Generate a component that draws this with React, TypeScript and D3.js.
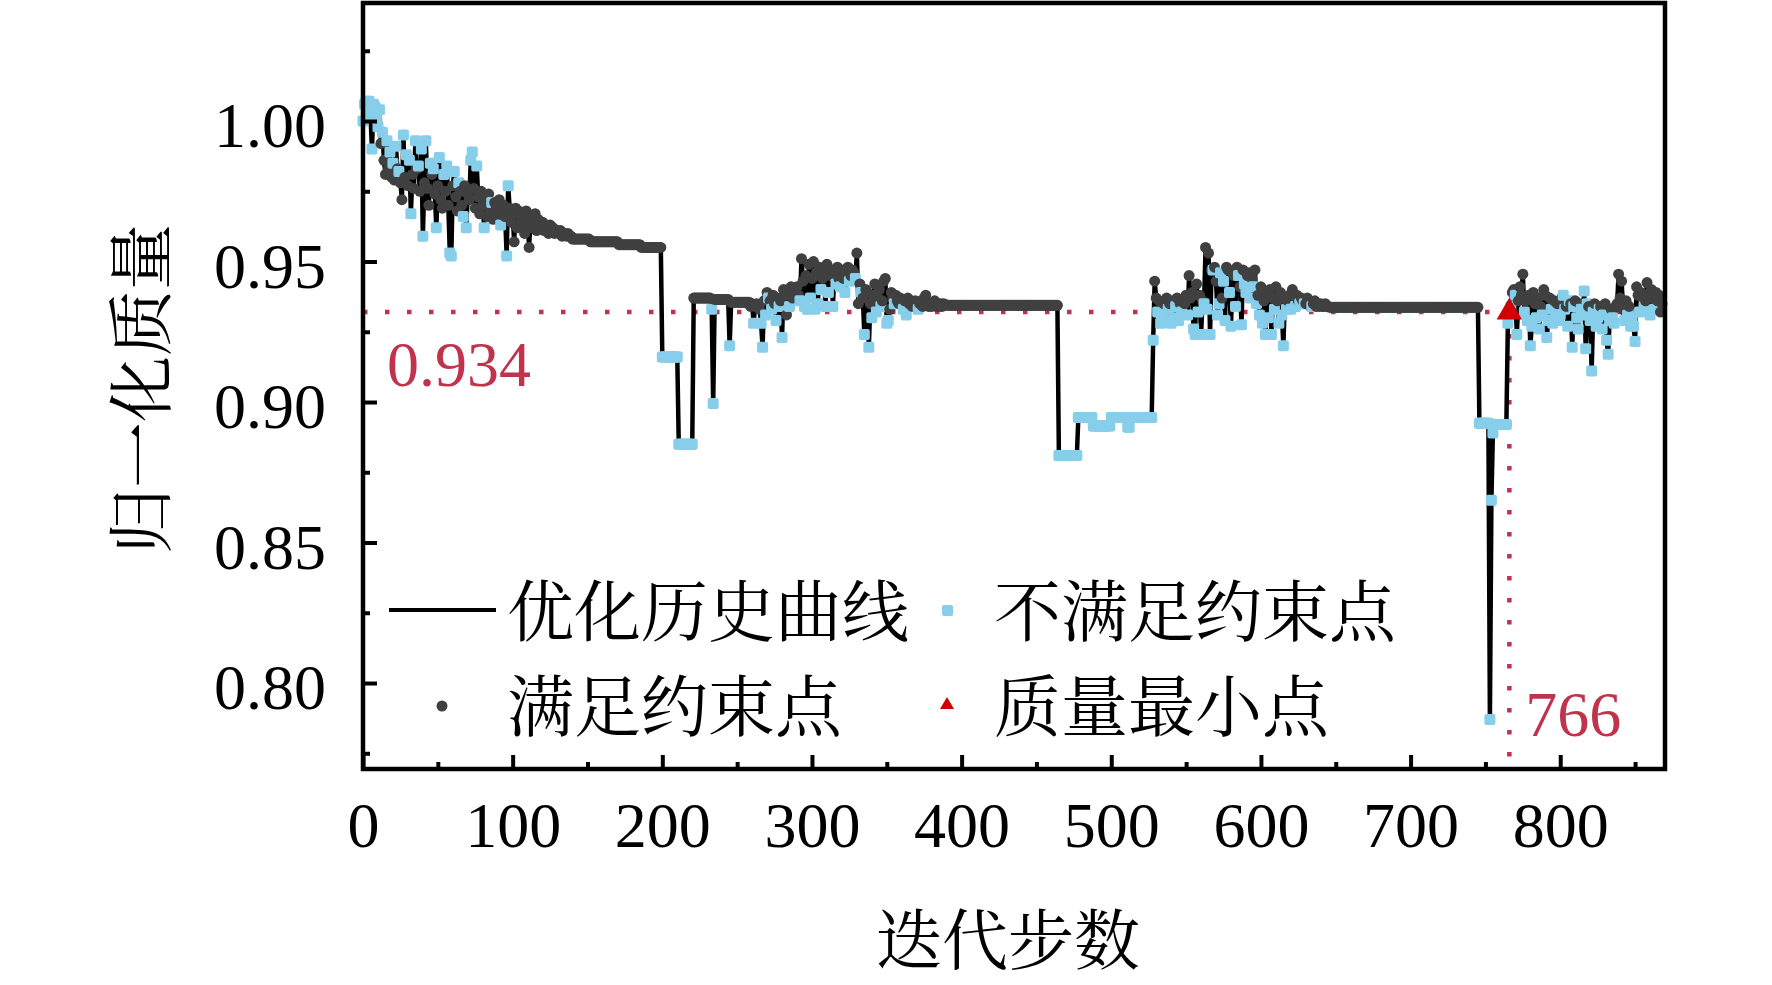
import { useEffect, useRef } from "react";
import * as d3 from "d3";

// ---------------------------------------------------------------------------
// Data: normalised mass per iteration, ×1000.
// Positive = constraint satisfied (grey dot), negative = violated (blue square).
// Runs are [value, count] for the flat stretches.
// ---------------------------------------------------------------------------

type Run = [number, number];

// iterations 0–139
const EARLY_NOISE = [
  -1000, -1006, -1007, -1004, -1007, -1002, -990, -1006, -1005, -1001,
  -998, -1004, 992, -996, 986, 981, -993, 983, -989, 980,
  -985, 979, -991, 983, -982, 978, 972, -995, 980, -988,
  977, -986, -967, 981, 976, -993, 983, -984, 975, -990,
  -959, 978, -993, 976, 970, -985, 981, -983, 974, -962,
  977, -987, 972, 969, -981, 975, -984, 970, -953, -952,
  977, -982, 973, 968, -978, 975, 970, -966, 977, -962,
  974, 972, -986, -989, 976, 969, -984, 973, 967, 975,
  970, -962, 972, 966, 974, 968, -971, 965, 971, 969,
  967, 972, -963, 968, 970, 966, -952, -977, 969, 964,
  967, 957, 969, 962, 968, 964, 966, 963, 960, 968,
  965, 955, 966, 962, 964, 967, 961, 965, 963, 962,
  964, 961, 963, 962, 960, 963, 961, 962, 960, 961,
  961, 960, 961, 959, 960, 960, 959, 960, 959, 959,
];

// iterations 140–199
const SETTLE_RUNS: Run[] = [[958, 12], [957, 19], [956, 15], [955, 14]];

// iterations 200–258
const DIP1_RUNS: Run[] = [
  [-916, 11], [-885, 10], [937, 12], [-933, 1], [-899.5, 1],
  [936.5, 10], [-920, 1], [935.5, 13],
];

// iterations 259–390
const MID_NOISE = [
  934, 935, -928, 934, 935, 934, 933, -928, -919.5, 936,
  -931, 939, -937, 936, -933, 938, 935, -929, 937, -934,
  936, -923, 940, 938, 931, 939, -934, 941, 937, 939,
  940, 941, 938, -936, 951, 943, -934, 945, -933, 949,
  -937, 944, 950, -933, 946, -935, 948, -940, 944, 947,
  -934, 949, -939, 945, 947, -934, 946, -942, 948, 944,
  -941, 947, 944, -939, 946, 948, -943, 945, 947, 946,
  -944, 953, 935, 942, -939, 937, -924, 940, 939, -919.5,
  935, -930, 938, 942, -932, 937, 940, -934, 936, 943,
  944, -928, -929, 933, 939, 937, -935, 938, 936, 935,
  937, 935, -933, 936, -931, 937, 935, 936, 934, 935,
  936, 934, -933, 935, 936, 934, 937, 938, 935, 934,
  935, 934, 935, 936, 934, 935, 934, 935, 934, 935,
  934.5, 934.5,
];

// iterations 391–464
const PLATEAU2_RUNS: Run[] = [[934.4, 74]];

// iterations 465–527
const DIP2_RUNS: Run[] = [
  [-881, 13], [-894.5, 10], [-891.5, 12], [-894.5, 11], [-891, 2], [-894.5, 15],
];

// iterations 528–645
const LATE_NOISE = [
  -922, 943, 937, -932, 936, -928, -931, 935, -929, 937,
  -933, 935, -928, 936, -930, -934, 937, -929, 935, -932,
  936, 935, 938, -931, 945, 937, 939, -926, -924, 942,
  -932, 938, -924, 936, -935, 955, -933, 953, -924, 947,
  -947, 948, 943, -931, -935, -946, 937, -943, -929, 948,
  947, -939, -927, 946, 945, -934, 948, -945, 941, -927.5,
  947, -942, -939, 945, 946, -937, 944, -941, 947, -935,
  938, -931, 941, -928, 936, -924, 939, -930, 940, -924,
  937, -933, 941, 936, -928, 939, -931, -920, 937, -933,
  936, 938, -933, 940, 937, -934, 938, 936, -935, 937,
  936, -935, 935, 937, 936, 934, -934, 935, 936, 934,
  935, 934, 935, 934, 934, 935, 934, 934,
];

// iterations 646–745
const PLATEAU3_RUNS: Run[] = [[933.7, 100]];

// iterations 746–766 (766 = minimum-mass point)
const DIP3_RUNS: Run[] = [
  [-892.4, 7], [-787, 1], [-865, 1], [-889, 1], [-892, 9], [-928, 1], [932, 1],
];

// iterations 767–868
const END_NOISE = [
  -934, 939, 940, -938, -924, 936, 941, 938, 945.5, -932,
  936, -929, 938, -920, -927, 939, 935, -930, 937, -926,
  934, -931, 940, 938, -923, -929, 937, -933, -928, 936,
  -932, 935, -929, -931, 937, -938, -933, 934, -927, -936,
  935, -919.5, -934, 936, -930, -926, 935, -933, -931, -939.5,
  -919, -935, 934, -929, -911, -932, 935, -927, -930, -933,
  934, -926, -931, 935, -922, -917, -929, 933, -930, -928,
  934, 935, 945.5, 937, 943, 933, -929, 936, -931, 934,
  -927, -930, -927, -921.5, 941, 938, -932, 939, 937, -934,
  936, 942.5, 938, -931, 940, 937, -933, 939, 936, 938,
  932, 935,
];

const X_TICKS = [0, 100, 200, 300, 400, 500, 600, 700, 800];
const X_MINOR = [50, 150, 250, 350, 450, 550, 650, 750, 850];
const Y_TICKS = [0.8, 0.85, 0.9, 0.95, 1.0];
const Y_MINOR = [0.775, 0.825, 0.875, 0.925, 0.975, 1.025];

const MIN_ITER = 766;
const MIN_LABEL = "0.934";
const X_TITLE = "迭代步数";
const Y_TITLE = "归一化质量";
const LEGEND = {
  line: "优化历史曲线",
  violated: "不满足约束点",
  feasible: "满足约束点",
  minimum: "质量最小点",
};

function expand(runs: Run[]): number[] {
  return runs.flatMap(([v, n]) => Array.from({ length: n }, () => v));
}

const SERIES = [
  ...EARLY_NOISE,
  ...expand(SETTLE_RUNS),
  ...expand(DIP1_RUNS),
  ...MID_NOISE,
  ...expand(PLATEAU2_RUNS),
  ...expand(DIP2_RUNS),
  ...LATE_NOISE,
  ...expand(PLATEAU3_RUNS),
  ...expand(DIP3_RUNS),
  ...END_NOISE,
];

type Pt = { iter: number; mass: number; feasible: boolean };
const POINTS: Pt[] = SERIES.map((s, i) => ({
  iter: i,
  mass: Math.abs(s) / 1000,
  feasible: s > 0,
}));

const BLUE = "#87ceeb";
const GREY = "#404040";
const RED = "#c0334c";
const TRI = "#d10000";
const NUM_FONT = "'Liberation Serif', 'Times New Roman', serif";
const CJK_FONT = "'Noto Serif CJK SC', 'Noto Sans CJK SC', sans-serif";

export default function App() {
  const svgRef = useRef<SVGSVGElement>(null);
  const width = 1772;
  const height = 985;

  useEffect(() => {
    const svg = d3.select(svgRef.current);
    svg.selectAll("*").remove();

    const m = { left: 363, right: 1665, top: 3, bottom: 769 };
    const x = d3.scaleLinear().domain([0, 870]).range([m.left, m.right]);
    const y = d3.scaleLinear().domain([0.7694, 1.042]).range([m.bottom, m.top]);

    // ---- reference lines (min point) ----
    const minPt = POINTS[MIN_ITER];
    svg
      .append("line")
      .attr("x1", m.left)
      .attr("x2", m.right)
      .attr("y1", y(minPt.mass))
      .attr("y2", y(minPt.mass))
      .attr("stroke", RED)
      .attr("stroke-width", 4.5)
      .attr("stroke-dasharray", "4.5 17.5");
    svg
      .append("line")
      .attr("x1", x(MIN_ITER))
      .attr("x2", x(MIN_ITER))
      .attr("y1", y(minPt.mass))
      .attr("y2", m.bottom)
      .attr("stroke", RED)
      .attr("stroke-width", 4.5)
      .attr("stroke-dasharray", "4.5 17.5");

    // ---- history line ----
    const line = d3
      .line<Pt>()
      .x((d) => x(d.iter))
      .y((d) => y(d.mass));
    svg
      .append("path")
      .datum(POINTS)
      .attr("d", line)
      .attr("fill", "none")
      .attr("stroke", "#000")
      .attr("stroke-width", 4.5)
      .attr("stroke-linejoin", "round");

    // ---- markers, in iteration order ----
    const gm = svg.append("g");
    POINTS.forEach((p) => {
      if (p.iter === MIN_ITER) return;
      if (p.feasible) {
        gm.append("circle")
          .attr("cx", x(p.iter))
          .attr("cy", y(p.mass))
          .attr("r", 5.5)
          .attr("fill", GREY);
      } else {
        gm.append("rect")
          .attr("x", x(p.iter) - 5.5)
          .attr("y", y(p.mass) - 5.5)
          .attr("width", 11)
          .attr("height", 11)
          .attr("rx", 2)
          .attr("fill", BLUE);
      }
    });

    svg
      .append("path")
      .attr("d", d3.symbol(d3.symbolTriangle, 280)())
      .attr("transform", `translate(${x(MIN_ITER)},${y(minPt.mass)})`)
      .attr("fill", TRI);

    // ---- annotations ----
    svg
      .append("text")
      .attr("x", 387)
      .attr("y", 386)
      .attr("fill", RED)
      .attr("font-family", NUM_FONT)
      .attr("font-size", 64)
      .text(MIN_LABEL);
    svg
      .append("text")
      .attr("x", x(MIN_ITER) + 16)
      .attr("y", 736)
      .attr("fill", RED)
      .attr("font-family", NUM_FONT)
      .attr("font-size", 64)
      .text(String(MIN_ITER));

    // ---- axes ----
    const styleAxis = (g: d3.Selection<SVGGElement, unknown, null, undefined>) => {
      g.select(".domain").remove();
      g.selectAll("line").attr("stroke", "#000").attr("stroke-width", 4);
      g.selectAll("text")
        .attr("fill", "#000")
        .attr("font-family", NUM_FONT)
        .attr("font-size", 64);
    };

    svg
      .append("g")
      .attr("transform", `translate(${m.left},0)`)
      .call(d3.axisLeft(y).tickValues(Y_TICKS).tickSize(-14).tickPadding(37).tickFormat(d3.format(".2f")))
      .call(styleAxis)
      .call((g) => g.selectAll("text").attr("dy", "0.40em"));
    svg
      .append("g")
      .attr("transform", `translate(${m.left},0)`)
      .call(d3.axisLeft(y).tickValues(Y_MINOR).tickSize(-7).tickFormat(() => ""))
      .call(styleAxis);

    svg
      .append("g")
      .attr("transform", `translate(0,${m.bottom})`)
      .call(d3.axisBottom(x).tickValues(X_TICKS).tickSize(-14).tickPadding(33))
      .call(styleAxis);
    svg
      .append("g")
      .attr("transform", `translate(0,${m.bottom})`)
      .call(d3.axisBottom(x).tickValues(X_MINOR).tickSize(-7).tickFormat(() => ""))
      .call(styleAxis);

    // frame
    svg
      .append("rect")
      .attr("x", m.left)
      .attr("y", m.top)
      .attr("width", m.right - m.left)
      .attr("height", m.bottom - m.top)
      .attr("fill", "none")
      .attr("stroke", "#000")
      .attr("stroke-width", 4.5);

    // titles
    svg
      .append("text")
      .attr("x", 1008)
      .attr("y", 964)
      .attr("text-anchor", "middle")
      .attr("font-family", CJK_FONT)
      .attr("font-size", 66)
      .text(X_TITLE);
    svg
      .append("text")
      .attr("transform", "translate(165,389) rotate(-90)")
      .attr("text-anchor", "middle")
      .attr("font-family", CJK_FONT)
      .attr("font-size", 66)
      .text(Y_TITLE);

    // ---- legend ----
    const lg = svg.append("g").attr("font-family", CJK_FONT).attr("font-size", 67);
    lg.append("line")
      .attr("x1", 389)
      .attr("x2", 496)
      .attr("y1", 610)
      .attr("y2", 610)
      .attr("stroke", "#000")
      .attr("stroke-width", 4);
    lg.append("text").attr("x", 507).attr("y", 636).text(LEGEND.line);
    lg.append("rect")
      .attr("x", 942)
      .attr("y", 605)
      .attr("width", 11)
      .attr("height", 11)
      .attr("rx", 2)
      .attr("fill", BLUE);
    lg.append("text").attr("x", 994).attr("y", 636).text(LEGEND.violated);
    lg.append("circle").attr("cx", 442).attr("cy", 706).attr("r", 5.5).attr("fill", GREY);
    lg.append("text").attr("x", 507).attr("y", 731).text(LEGEND.feasible);
    lg.append("path")
      .attr("d", d3.symbol(d3.symbolTriangle, 85)())
      .attr("transform", "translate(947,705)")
      .attr("fill", TRI);
    lg.append("text").attr("x", 994).attr("y", 731).text(LEGEND.minimum);
  }, []);

  return (
    <div style={{ position: "absolute", left: 0, top: 0, background: "#fff" }}>
      <svg ref={svgRef} width={width} height={height} style={{ display: "block" }} />
    </div>
  );
}
